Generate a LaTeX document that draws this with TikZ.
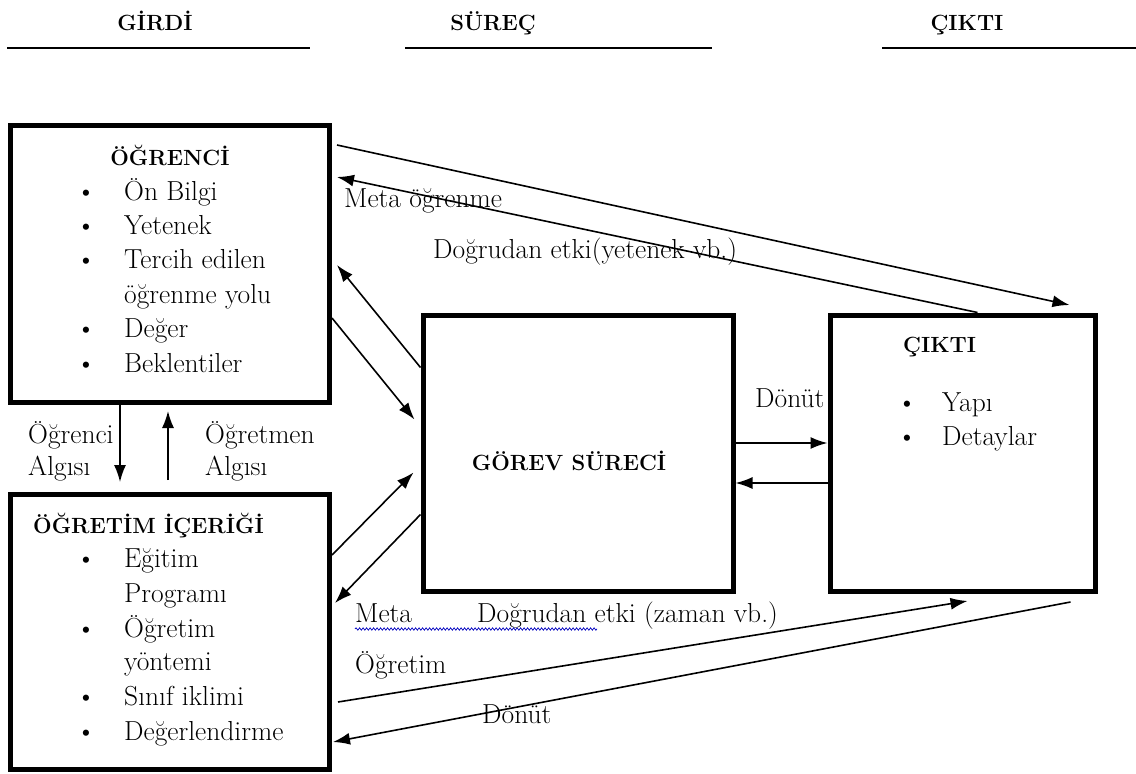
\documentclass[tikz,border=0pt]{standalone}
\usetikzlibrary{arrows.meta,calc,decorations.pathmorphing}
\begin{document}
\begin{tikzpicture}[x=1pt,y=-1pt,
  box/.style={draw,line width=5pt,inner sep=0pt},
  txt/.style={font=\fontsize{27.5}{32}\selectfont,inner sep=0pt,anchor=base west},
  bul/.style={font=\fontsize{27.5}{32}\selectfont,inner sep=0pt,anchor=base},
  ttl/.style={font=\fontsize{22}{26}\selectfont\bfseries,inner sep=0pt,anchor=base},
  conn/.style={line width=1.6pt,-{Latex[length=17pt,width=12pt]}},
  rulex/.style={line width=1.5pt}]
\useasboundingbox (0,0) rectangle (1136,774);
\fill[white] (0,0) rectangle (1136,774);

% headers
\node[ttl] (h1) at (155,30) {GİRDİ};
\node[ttl] (h2) at (493,30) {SÜREÇ};
\node[ttl] (h3) at (967,30) {ÇIKTI};
\draw[rulex] (7,48) -- (310,48);
\draw[rulex] (405,48) -- (712,48);
\draw[rulex] (882,48) -- (1136,48);

% boxes
\node[box,minimum width=319pt,minimum height=277pt] (b1) at (170,264) {};
\node[box,minimum width=319pt,minimum height=275pt] (b2) at (170,632) {};
\node[box,minimum width=310pt,minimum height=276pt] (g) at (578,453) {};
\node[box,minimum width=265pt,minimum height=276pt] (c) at (962.5,453) {};

% box 1 text
\node[ttl] (t1) at (170,165) {ÖĞRENCİ};
\node[bul] (p1) at (86,200) {\textbullet};
\node[txt] (l1) at (124,200) {Ön Bilgi};
\node[bul] (p2) at (86,234) {\textbullet};
\node[txt] (l2) at (124,234) {Yetenek};
\node[bul] (p3) at (86,268) {\textbullet};
\node[txt] (l3) at (124,268) {Tercih edilen};
\node[txt] (l3b) at (124,303) {öğrenme yolu};
\node[bul] (p4) at (86,337) {\textbullet};
\node[txt] (l4) at (124,337) {Değer};
\node[bul] (p5) at (86,372) {\textbullet};
\node[txt] (l5) at (124,372) {Beklentiler};

% box 2 text
\node[ttl,anchor=base west] (t2) at (33,533) {ÖĞRETİM İÇERİĞİ};
\node[bul] (q1) at (86,567) {\textbullet};
\node[txt] (m1) at (124,567) {Eğitim};
\node[txt] (m1b) at (124,602) {Programı};
\node[bul] (q2) at (86,637) {\textbullet};
\node[txt] (m2) at (124,637) {Öğretim};
\node[txt] (m2b) at (124,670) {yöntemi};
\node[bul] (q3) at (86,705) {\textbullet};
\node[txt] (m3) at (124,705) {Sınıf iklimi};
\node[bul] (q4) at (86,740) {\textbullet};
\node[txt] (m4) at (124,740) {Değerlendirme};

% process and output text
\node[ttl] (t3) at (569,470) {GÖREV SÜRECİ};
\node[ttl,anchor=base west] (t4) at (903,352) {ÇIKTI};
\node[bul] (r1) at (907,411) {\textbullet};
\node[txt] (n1) at (942,411) {Yapı};
\node[bul] (r2) at (907,445) {\textbullet};
\node[txt] (n2) at (942,445) {Detaylar};

% labels
\node[txt] (la1) at (28,443) {Öğrenci};
\node[txt] (la2) at (28,475) {Algısı};
\node[txt] (la3) at (205,443) {Öğretmen};
\node[txt] (la4) at (205,475) {Algısı};
\node[txt] (la5) at (344,207) {Meta öğrenme};
\node[txt] (la6) at (433,258) {Doğrudan etki(yetenek vb.)};
\node[txt] (la7) at (755,407) {Dönüt};
\node[txt] (la8) at (355,622) {Meta};
\node[txt] (la9) at (477,622) {Doğrudan etki (zaman vb.)};
\node[txt] (la10) at (355,673) {Öğretim};
\node[txt] (la11) at (482,723) {Dönüt};
\draw[blue!75!black,line width=0.7pt,decorate,decoration={snake,amplitude=1.2pt,segment length=3.5pt}]
  ([yshift=-7pt]la8.base west) -- ([xshift=120pt,yshift=-7pt]la9.base west);

% connectors
\draw[conn] ($(b1.north east)+(5,22)$) -- ($(c.north west)+(242,-7.5)$);
\draw[conn] ($(c.north west)+(150,0)$) -- ($(b1.north east)+(5,54)$);
\draw[conn] ($(g.north west)+(0,55)$) -- ($(b1.north east)+(5,142)$);
\draw[conn] ($(b1.north east)+(0,195)$) -- ($(g.north west)+(-6,107)$);
\draw[conn] ($(b2.north east)+(0,63)$) -- ($(g.north west)+(-7,160)$);
\draw[conn] ($(g.north west)+(0,202)$) -- ($(b2.north east)+(3,111)$);
\draw[conn] ($(g.north east)+(0,130.5)$) -- ($(c.north west)+(0,130.5)$);
\draw[conn] ($(c.north west)+(0,170.5)$) -- ($(g.north east)+(0,170.5)$);
\draw[conn] ($(b1.south west)+(112,0)$) -- ($(b2.north west)+(112,-10)$);
\draw[conn] ($(b2.north west)+(160,-12)$) -- ($(b1.south west)+(160,6)$);
\draw[conn] ($(b2.north east)+(6,210)$) -- ($(c.south west)+(140,7.5)$);
\draw[conn] ($(c.south west)+(243,8.5)$) -- ($(b2.north east)+(1,250)$);
\end{tikzpicture}
\end{document}
